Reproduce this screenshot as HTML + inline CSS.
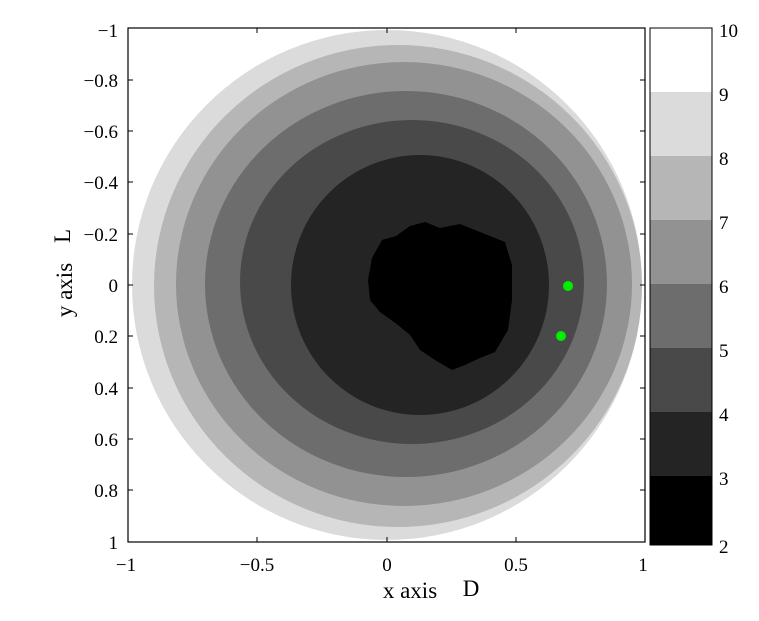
<!DOCTYPE html>
<html><head><style>
body{margin:0;background:#fff;}
svg text{font-family:"Liberation Serif",serif;fill:#000;}
</style></head><body>
<svg width="759" height="616" viewBox="0 0 759 616" xmlns="http://www.w3.org/2000/svg">
<rect width="759" height="616" fill="#fff"/>
<defs><clipPath id="c"><circle cx="387" cy="285" r="255"/></clipPath></defs>
<g clip-path="url(#c)">
<rect x="120" y="20" width="530" height="530" fill="#dbdbdb"/>
<ellipse cx="398" cy="286" rx="244" ry="241" fill="#b6b6b6"/>
<ellipse cx="404" cy="284" rx="228" ry="222" fill="#929292"/>
<ellipse cx="406" cy="284" rx="201" ry="193" fill="#6d6d6d"/>
<ellipse cx="412" cy="282" rx="172" ry="162" fill="#494949"/>
<ellipse cx="420" cy="285" rx="129" ry="130" fill="#242424"/>
<path d="M372,258 L382,240 L396,236 L410,226 L425,222 L440,228 L460,224 L475,230 L490,236 L505,242 L512,265 L512,300 L508,330 L495,352 L480,358 L465,365 L452,370 L435,360 L420,350 L410,335 L398,325 L380,312 L370,300 L368,280 Z" fill="#000"/>
</g>
<circle cx="568" cy="286" r="5" fill="#00ee00"/>
<circle cx="561" cy="336" r="5" fill="#00ee00"/>
<rect x="128" y="28" width="517" height="514" fill="none" stroke="#000" stroke-width="1.2"/>
<g stroke="#000" stroke-width="1">
<line x1="257" y1="28" x2="257" y2="33"/><line x1="387" y1="28" x2="387" y2="33"/><line x1="516" y1="28" x2="516" y2="33"/>
<line x1="257" y1="542" x2="257" y2="537"/><line x1="387" y1="542" x2="387" y2="537"/><line x1="516" y1="542" x2="516" y2="537"/>
<line x1="128" y1="80" x2="133" y2="80"/><line x1="128" y1="131" x2="133" y2="131"/><line x1="128" y1="182" x2="133" y2="182"/><line x1="128" y1="234" x2="133" y2="234"/><line x1="128" y1="285" x2="133" y2="285"/><line x1="128" y1="336" x2="133" y2="336"/><line x1="128" y1="388" x2="133" y2="388"/><line x1="128" y1="439" x2="133" y2="439"/><line x1="128" y1="490" x2="133" y2="490"/>
<line x1="645" y1="80" x2="640" y2="80"/><line x1="645" y1="131" x2="640" y2="131"/><line x1="645" y1="182" x2="640" y2="182"/><line x1="645" y1="234" x2="640" y2="234"/><line x1="645" y1="285" x2="640" y2="285"/><line x1="645" y1="336" x2="640" y2="336"/><line x1="645" y1="388" x2="640" y2="388"/><line x1="645" y1="439" x2="640" y2="439"/><line x1="645" y1="490" x2="640" y2="490"/>
</g>
<g font-size="19" text-anchor="end">
<text x="118" y="37">−1</text><text x="118" y="87">−0.8</text><text x="118" y="138">−0.6</text><text x="118" y="189">−0.4</text><text x="118" y="241">−0.2</text><text x="118" y="292">0</text><text x="118" y="343">0.2</text><text x="118" y="395">0.4</text><text x="118" y="446">0.6</text><text x="118" y="497">0.8</text><text x="118" y="549">1</text>
</g>
<g font-size="19" text-anchor="middle">
<text x="126" y="571">−1</text><text x="257" y="571">−0.5</text><text x="387" y="571">0</text><text x="516" y="571">0.5</text><text x="643" y="571">1</text>
</g>
<text x="410" y="598" font-size="23" text-anchor="middle">x axis</text>
<text x="471" y="596" font-size="23" text-anchor="middle">D</text>
<text transform="translate(72,290) rotate(-90)" font-size="23" text-anchor="middle">y axis</text>
<text transform="translate(70,236) rotate(-90)" font-size="23" text-anchor="middle">L</text>
<g>
<rect x="650" y="28" width="62" height="65" fill="#fff"/>
<rect x="650" y="92" width="62" height="65" fill="#dbdbdb"/>
<rect x="650" y="156" width="62" height="65" fill="#b6b6b6"/>
<rect x="650" y="220" width="62" height="65" fill="#929292"/>
<rect x="650" y="284" width="62" height="65" fill="#6d6d6d"/>
<rect x="650" y="348" width="62" height="65" fill="#494949"/>
<rect x="650" y="412" width="62" height="65" fill="#242424"/>
<rect x="650" y="476" width="62" height="69" fill="#000"/>
<rect x="650" y="28" width="62" height="517" fill="none" stroke="#000" stroke-width="1"/>
</g>
<g font-size="19">
<text x="719" y="37">10</text><text x="719" y="101">9</text><text x="719" y="165">8</text><text x="719" y="229">7</text><text x="719" y="293">6</text><text x="719" y="357">5</text><text x="719" y="421">4</text><text x="719" y="485">3</text><text x="719" y="553">2</text>
</g>
</svg>
</body></html>
